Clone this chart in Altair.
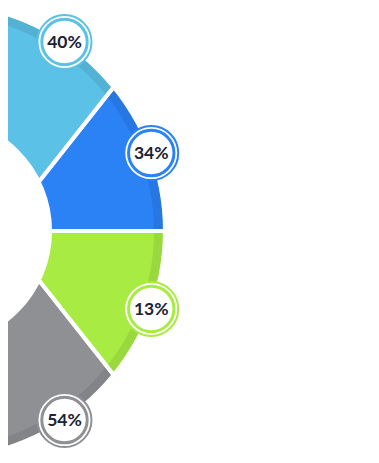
import math
import altair as alt
import pandas as pd

# ---- data ----
labels = ["40%", "34%", "13%", "54%"]
colors = ["#5BC1E6", "#2A82F5", "#A8EC43", "#8E9093"]
# degrees swept by each slice around the pie point (slice edges meet there)
slice_sweep = [128.3, 51.7, 51.7, 128.3]
# angle (deg, clockwise from 12 o'clock) of each badge around the ring centre
badge_angle = [34, 70, 110, 146]

# ---- geometry / style constants ----
W, H = 363, 445
PIE_X, PIE_Y = -8, 223       # point where the slice edges meet
RING_X = -71                  # centre of the ring (same y)
R_OUT, R_IN, R_BAND = 226, 115, 217
BADGE_R = 228
TWO_PI = 2 * math.pi

seg = pd.DataFrame({
    "idx": list(range(len(labels))),
    "label": labels,
    "sweep": slice_sweep,
    "angle": badge_angle,
})
one = pd.DataFrame({"k": [0]})

color_scale = alt.Scale(domain=labels, range=colors)
theta_scale = alt.Scale(domain=[0, 360], range=[1.5 * math.pi, 3.5 * math.pi])

base = alt.Chart(seg)

fills = base.mark_arc(radius=400).encode(
    theta=alt.Theta("sweep:Q", stack=True, scale=theta_scale),
    order=alt.Order("idx:Q"),
    color=alt.Color("label:N", scale=color_scale, legend=None),
    x=alt.value(PIE_X),
    y=alt.value(PIE_Y),
)

band = alt.Chart(one).mark_arc(
    radius=R_OUT, radius2=R_BAND, theta=0, theta2=TWO_PI,
    color="black", opacity=0.08,
).encode(x=alt.value(RING_X), y=alt.value(PIE_Y))

gaps = base.mark_arc(
    radius=400, fillOpacity=0, stroke="white", strokeWidth=4,
).encode(
    theta=alt.Theta("sweep:Q", stack=True, scale=theta_scale),
    order=alt.Order("idx:Q"),
    x=alt.value(PIE_X),
    y=alt.value(PIE_Y),
)

outer_mask = alt.Chart(one).mark_arc(
    radius=900, radius2=R_OUT, theta=0, theta2=TWO_PI, color="white",
).encode(x=alt.value(RING_X), y=alt.value(PIE_Y))

hole = alt.Chart(one).mark_arc(
    radius=R_IN, theta=0, theta2=TWO_PI, color="white",
).encode(x=alt.value(RING_X), y=alt.value(PIE_Y))

# badge positions in a pixel-unit frame centred on the ring centre
xs = alt.Scale(domain=[-RING_X, -RING_X + W], nice=False, zero=False)
ys = alt.Scale(domain=[PIE_Y - H, PIE_Y], nice=False, zero=False)

badges = base.transform_calculate(
    bx=f"sin(datum.angle * PI / 180) * {BADGE_R}",
    by=f"cos(datum.angle * PI / 180) * {BADGE_R}",
)

ring_outer = badges.mark_point(
    shape="circle", filled=False, fill="white", size=54 * 54, strokeWidth=2, opacity=1,
).encode(
    x=alt.X("bx:Q", scale=xs, axis=None),
    y=alt.Y("by:Q", scale=ys, axis=None),
    stroke=alt.Color("label:N", scale=color_scale, legend=None),
)

ring_inner = badges.mark_point(
    shape="circle", filled=False, fill="white", size=45.4 * 45.4, strokeWidth=3, opacity=1,
).encode(
    x=alt.X("bx:Q", scale=xs, axis=None),
    y=alt.Y("by:Q", scale=ys, axis=None),
    stroke=alt.Color("label:N", scale=color_scale, legend=None),
)

text = badges.mark_text(
    font="Lato", fontSize=17.5, fontWeight="bold", color="#1b2236",
    align="center", baseline="middle", dy=1,
).encode(
    x=alt.X("bx:Q", scale=xs, axis=None),
    y=alt.Y("by:Q", scale=ys, axis=None),
    text="label:N",
)

chart = alt.layer(
    fills, band, gaps, outer_mask, hole, ring_outer, ring_inner, text
).properties(
    width=W, height=H, padding=0, autosize="none", background="white",
).configure_view(stroke=None)

chart.save("out.html", embed_options={"renderer": "svg", "actions": False})
